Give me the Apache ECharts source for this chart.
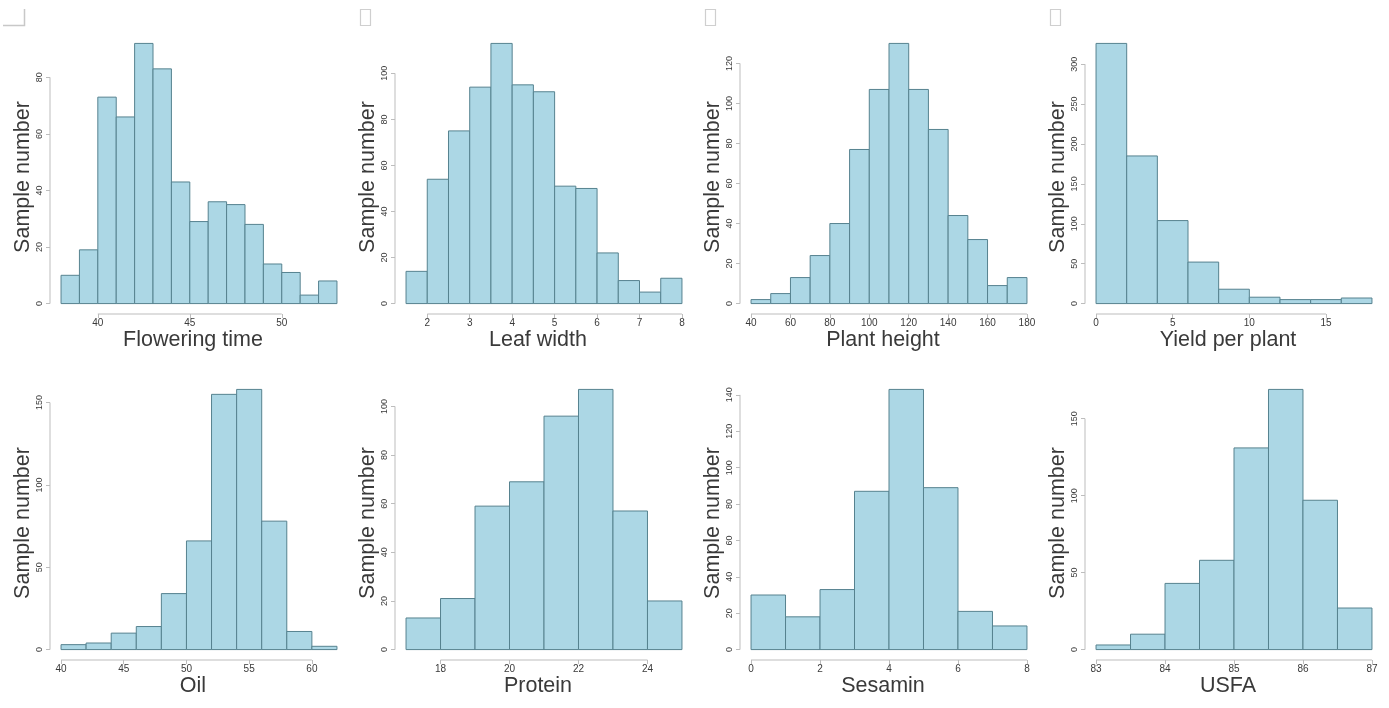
<!DOCTYPE html>
<html>
<head>
<meta charset="utf-8">
<script src="https://cdn.jsdelivr.net/npm/echarts@6/dist/echarts.min.js"></script>
<style>
  html, body { margin: 0; padding: 0; background: #fff; }
  #main { width: 1389px; height: 708px; }
</style>
</head>
<body>
<div id="main"></div>
<script>
// trait names (x axis titles), row by row
const traitNames = ['Flowering time', 'Leaf width', 'Plant height', 'Yield per plant',
  'Oil', 'Protein', 'Sesamin', 'USFA']

// histogram breaks: first break and bin width for each trait
const binStarts = [38, 1.5, 40, 0, 40, 17, 0, 83]
const binWidths = [1, 0.5, 10, 2, 2, 1, 1, 0.5]

// counts per bin
const floweringCounts = [10, 19, 73, 66, 92, 83, 43, 29, 36, 35, 28, 14, 11, 3, 8]
const leafCounts = [14, 54, 75, 94, 113, 95, 92, 51, 50, 22, 10, 5, 11]
const heightCounts = [2, 5, 13, 24, 40, 77, 107, 130, 107, 87, 44, 32, 9, 13]
const yieldCounts = [326, 185, 104, 52, 18, 8, 5, 5, 7]
const oilCounts = [3, 4, 10, 14, 34, 66, 155, 158, 78, 11, 2]
const proteinCounts = [13, 21, 59, 69, 96, 107, 57, 20]
const sesaminCounts = [30, 18, 33, 87, 143, 89, 21, 13]
const usfaCounts = [3, 10, 43, 58, 131, 169, 97, 27]
const allCounts = [floweringCounts, leafCounts, heightCounts, yieldCounts,
  oilCounts, proteinCounts, sesaminCounts, usfaCounts]

// tick labels
const xTicks = [
  [40, 45, 50], [2, 3, 4, 5, 6, 7, 8], [40, 60, 80, 100, 120, 140, 160, 180], [0, 5, 10, 15],
  [40, 45, 50, 55, 60], [18, 20, 22, 24], [0, 2, 4, 6, 8], [83, 84, 85, 86, 87]
]
const yTicks = [
  [0, 20, 40, 60, 80], [0, 20, 40, 60, 80, 100], [0, 20, 40, 60, 80, 100, 120], [0, 50, 100, 150, 200, 250, 300],
  [0, 50, 100, 150], [0, 20, 40, 60, 80, 100], [0, 20, 40, 60, 80, 100, 120, 140], [0, 50, 100, 150]
]

const chart = echarts.init(document.getElementById('main'), null, { renderer: 'canvas' })

const FILL = '#acd7e5'
const EDGE = '#56828f'
const AXIS = '#bdbdbd'
const TEXT = '#3a3a3a'
const FONT = '"Liberation Sans", Arial, sans-serif'

const grids = []
const xAxes = []
const yAxes = []
const series = []

traitNames.forEach((name, i) => {
  const col = i % 4
  const row = Math.floor(i / 4)
  const counts = allCounts[i]
  const lo = binStarts[i]
  const hi = lo + binWidths[i] * counts.length
  const xPad = (hi - lo) * 0.04
  const yMax = Math.max(...counts)
  const xMin = lo - xPad
  const xMax = hi + xPad
  const yMin = -yMax * 0.04
  const xt = xTicks[i]
  const yt = yTicks[i]

  grids.push({ left: 50 + col * 345, top: 33 + row * 346, width: 298, height: 281 })

  xAxes.push({
    type: 'value', gridIndex: i, min: xMin, max: xMax,
    name: name, nameLocation: 'middle', nameGap: 12,
    nameTextStyle: { fontFamily: FONT, fontSize: 21.5, color: TEXT, padding: [0, 12, 0, 0] },
    axisLine: { show: false, onZero: false },
    axisTick: { show: true, length: 4, lineStyle: { color: AXIS }, customValues: xt },
    axisLabel: { fontFamily: FONT, fontSize: 10, color: TEXT, margin: 4, customValues: xt },
    splitLine: { show: false }
  })

  yAxes.push({
    type: 'value', gridIndex: i, min: yMin, max: yMax * 1.04,
    name: 'Sample number', nameLocation: 'middle', nameGap: 15,
    nameTextStyle: { fontFamily: FONT, fontSize: 21.5, color: TEXT, padding: [0, 7, 0, 0] },
    axisLine: { show: false, onZero: false },
    axisTick: { show: true, length: 4, lineStyle: { color: AXIS }, customValues: yt },
    axisLabel: { fontFamily: FONT, fontSize: 9, color: TEXT, rotate: 90, margin: 6, customValues: yt },
    splitLine: { show: false }
  })

  // histogram bars
  series.push({
    type: 'custom', xAxisIndex: i, yAxisIndex: i,
    encode: { x: [0, 1], y: 2 },
    data: counts.map((c, k) => [lo + k * binWidths[i], lo + (k + 1) * binWidths[i], c]),
    renderItem: (params, api) => {
      const p0 = api.coord([api.value(0), api.value(2)])
      const p1 = api.coord([api.value(1), 0])
      return {
        type: 'rect',
        shape: { x: p0[0], y: p0[1], width: p1[0] - p0[0], height: p1[1] - p0[1] },
        style: { fill: FILL, stroke: EDGE, lineWidth: 1 }
      }
    }
  })

  // R-style axis lines running from first to last tick
  series.push({
    type: 'line', xAxisIndex: i, yAxisIndex: i, clip: false, symbol: 'none', silent: true,
    lineStyle: { color: AXIS, width: 1 },
    data: [[xt[0], yMin], [xt[xt.length - 1], yMin]]
  })
  series.push({
    type: 'line', xAxisIndex: i, yAxisIndex: i, clip: false, symbol: 'none', silent: true,
    lineStyle: { color: AXIS, width: 1 },
    data: [[xMin, yt[0]], [xMin, yt[yt.length - 1]]]
  })
})

// small scan marks in the top corners of the first row
const marks = [
  { type: 'polyline', shape: { points: [[3, 25.5], [24.5, 25.5], [24.5, 9]] }, style: { stroke: '#c8c8c8', fill: null, lineWidth: 1.5 } }
]
;[360, 705, 1050].forEach(x => {
  marks.push({ type: 'rect', shape: { x: x + 0.5, y: 9.5, width: 10, height: 16 }, style: { stroke: '#cfcfcf', fill: null, lineWidth: 1.2 } })
})

chart.setOption({
  animation: false,
  backgroundColor: '#fff',
  grid: grids,
  xAxis: xAxes,
  yAxis: yAxes,
  series: series,
  graphic: marks
})
</script>
</body>
</html>
